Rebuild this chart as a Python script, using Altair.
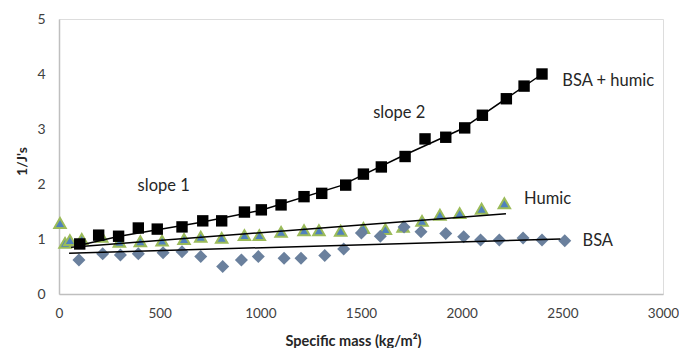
import altair as alt
import pandas as pd

# BSA + humic (squares)
mass_bh = [103, 197, 296, 394, 488, 611, 714, 808, 921, 1005, 1103, 1217, 1305, 1424,
           1512, 1601, 1719, 1818, 1921, 2015, 2103, 2222, 2310, 2399]
inv_bh = [0.91, 1.07, 1.05, 1.20, 1.18, 1.22, 1.33, 1.33, 1.49, 1.53, 1.62, 1.77, 1.83, 1.98,
          2.18, 2.31, 2.50, 2.82, 2.85, 3.02, 3.25, 3.55, 3.78, 4.00]
# trend through BSA + humic
trend_bh_x = [80, 300, 700, 1000, 1400, 1700, 2000, 2400]
trend_bh_y = [0.87, 1.05, 1.30, 1.52, 1.97, 2.50, 3.00, 4.00]

# Humic (triangles)
mass_h = [5, 30, 54, 113, 212, 300, 404, 512, 621, 704, 808, 921, 995, 1103, 1217, 1291,
          1399, 1512, 1621, 1709, 1803, 1892, 1990, 2099, 2212]
inv_h = [1.29, 0.93, 0.98, 1.00, 1.04, 0.95, 0.96, 0.97, 1.00, 1.04, 1.02, 1.07, 1.07, 1.13,
         1.16, 1.16, 1.15, 1.20, 1.18, 1.22, 1.33, 1.44, 1.47, 1.55, 1.65]
trend_h_x = [60, 2220]
trend_h_y = [0.85, 1.46]

# BSA (diamonds)
mass_b = [99, 217, 305, 394, 517, 611, 704, 813, 906, 990, 1118, 1202, 1320, 1414, 1502,
          1596, 1714, 1798, 1921, 2010, 2094, 2187, 2305, 2399, 2512]
inv_b = [0.62, 0.73, 0.71, 0.73, 0.75, 0.77, 0.68, 0.50, 0.62, 0.68, 0.65, 0.65, 0.70, 0.82,
         1.11, 1.05, 1.22, 1.13, 1.10, 1.04, 0.98, 0.98, 1.02, 0.98, 0.97]
trend_b_x = [50, 2490]
trend_b_y = [0.74, 1.00]

# annotations
ann_text = ["slope 1", "slope 2", "BSA + humic", "Humic", "BSA"]
ann_x = [520, 1690, 2500, 2310, 2600]
ann_y = [1.96, 3.29, 3.87, 1.73, 0.96]
ann_align = ["center", "center", "left", "left", "left"]

FONT = "Lato"
xs = alt.Scale(domain=[0, 3000], nice=False)
ys = alt.Scale(domain=[0, 5], nice=False)

df_bh = pd.DataFrame({"x": mass_bh, "y": inv_bh})
df_h = pd.DataFrame({"x": mass_h, "y": inv_h})
df_b = pd.DataFrame({"x": mass_b, "y": inv_b})
tr = pd.concat([
    pd.DataFrame({"x": trend_bh_x, "y": trend_bh_y, "s": "bh"}),
    pd.DataFrame({"x": trend_h_x, "y": trend_h_y, "s": "h"}),
    pd.DataFrame({"x": trend_b_x, "y": trend_b_y, "s": "b"}),
])
ann = pd.DataFrame({"t": ann_text, "x": ann_x, "y": ann_y, "a": ann_align})

xenc = alt.X("x:Q", scale=xs, axis=alt.Axis(
    title="Specific mass (kg/m²)", values=[0, 500, 1000, 1500, 2000, 2500, 3000],
    format="d", labelFlush=False,
    grid=False, ticks=False, domainColor="#bfbfbf", domainWidth=1.5,
    labelFont=FONT, labelFontSize=13.5, labelColor="#404040", labelPadding=12,
    titleFont=FONT, titleFontSize=14.5, titleFontWeight="bold", titleColor="#262626",
    titleX=294, titleY=40))
yenc = alt.Y("y:Q", scale=ys, axis=alt.Axis(
    title="1/J's", values=[0, 1, 2, 3, 4, 5], grid=False, ticks=False,
    domainColor="#bfbfbf", domainWidth=1.5, labelFlush=False,
    labelFont=FONT, labelFontSize=14, labelColor="#404040", labelPadding=14,
    titleFont=FONT, titleFontSize=14, titleFontWeight="bold", titleColor="#262626",
    titleX=-30, titleY=142))

tri = alt.Chart(df_h).mark_point(shape="triangle-up", filled=True, size=130,
                                 color="#4f81bd", stroke="#9bbb59", strokeWidth=2,
                                 opacity=1).encode(x=xenc, y=yenc)
dia = alt.Chart(df_b).mark_point(shape="diamond", filled=True, size=170,
                                 color="#6a809d", opacity=1).encode(x="x:Q", y="y:Q")
sq = alt.Chart(df_bh).mark_point(shape="square", filled=True, size=130,
                                 color="#000000", opacity=1).encode(x="x:Q", y="y:Q")
lines = alt.Chart(tr).mark_line(color="#000000", strokeWidth=1.5).encode(
    x="x:Q", y="y:Q", detail="s:N")

texts = []
for i in range(len(ann_text)):
    sub = ann.iloc[[i]]
    texts.append(alt.Chart(sub).mark_text(font=FONT, fontSize=16.5, color="#262626",
                                          align=ann_align[i], baseline="middle").encode(
        x="x:Q", y="y:Q", text="t:N"))

chart = alt.layer(tri, dia, sq, lines, *texts).properties(
    width=604, height=275,
    padding={"left": 51, "top": 11, "right": 16, "bottom": 54},
    autosize=alt.AutoSizeParams(type="none"),
).configure_view(stroke=None).configure(background="white")

chart.save("out.html", embed_options={"renderer": "svg", "actions": False})
